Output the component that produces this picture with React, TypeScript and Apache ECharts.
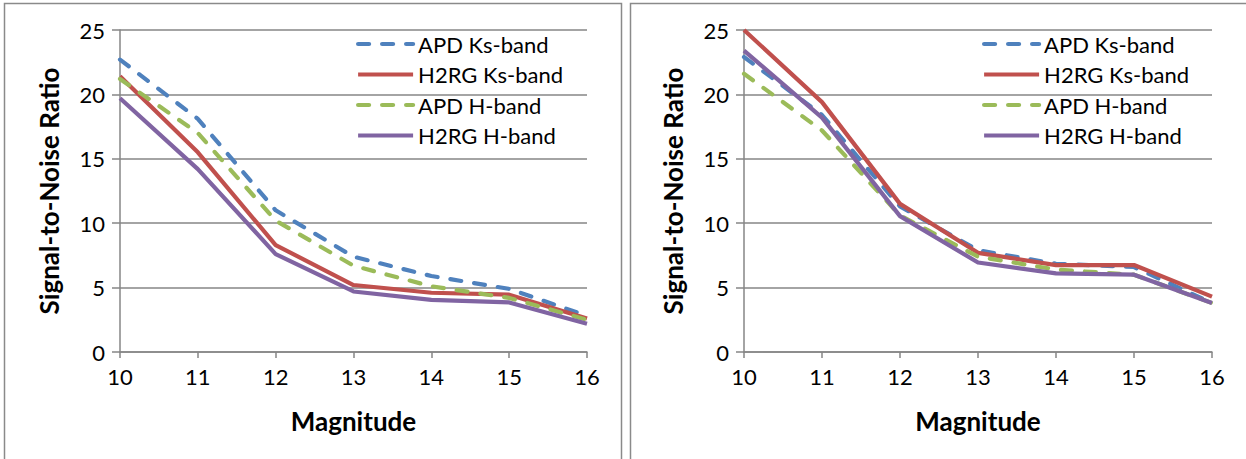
import React, { useEffect, useRef } from "react";
import * as echarts from "echarts";

const magnitudes = ["10", "11", "12", "13", "14", "15", "16"];
const seriesNames = ["APD Ks-band", "H2RG Ks-band", "APD H-band", "H2RG H-band"];

// Left panel
const leftApdKs = [22.7, 18.1, 11.0, 7.4, 5.9, 4.9, 2.8];
const leftH2rgKs = [21.4, 15.5, 8.3, 5.2, 4.6, 4.45, 2.6];
const leftApdH = [21.2, 17.0, 10.2, 6.7, 5.1, 4.2, 2.5];
const leftH2rgH = [19.7, 14.2, 7.6, 4.7, 4.05, 3.85, 2.2];

// Right panel
const rightApdKs = [22.9, 18.4, 11.3, 7.9, 6.85, 6.6, 3.8];
const rightH2rgKs = [25.0, 19.4, 11.5, 7.7, 6.75, 6.75, 4.3];
const rightApdH = [21.6, 17.2, 10.6, 7.4, 6.4, 6.0, 3.8];
const rightH2rgH = [23.4, 18.2, 10.55, 6.95, 6.1, 6.0, 3.8];

const colors = ["#4F81BD", "#C0504D", "#9BBB59", "#8064A2"];
const dashed = [true, false, true, false];

const FONT = "Lato, 'Open Sans', sans-serif";

export default function App() {
  const ref = useRef<HTMLDivElement>(null);

  useEffect(() => {
    if (!ref.current) return;
    const chart = echarts.init(ref.current, null, { renderer: "svg" });

    const grids = [
      { left: 120, top: 30, width: 467, height: 322 },
      { left: 744, top: 30, width: 468, height: 322 },
    ];

    const mkX = (gi: number) => ({
      type: "category",
      gridIndex: gi,
      data: magnitudes,
      boundaryGap: false,
      name: "Magnitude",
      nameLocation: "middle",
      nameGap: 56,
      nameTextStyle: { fontFamily: FONT, fontWeight: "bold", fontSize: 26, color: "#000" },
      axisLine: { lineStyle: { color: "#868686", width: 1.5 } },
      axisTick: { show: true, length: 6, alignWithLabel: true, lineStyle: { color: "#868686", width: 1.5 } },
      axisLabel: { fontFamily: FONT, fontSize: 22, color: "#000", margin: 13 },
      splitLine: { show: false },
    });

    const mkY = (gi: number) => ({
      type: "value",
      gridIndex: gi,
      min: 0,
      max: 25,
      interval: 5,
      name: "Signal-to-Noise Ratio",
      nameLocation: "middle",
      nameGap: 58,
      nameTextStyle: { fontFamily: FONT, fontWeight: "bold", fontSize: 26, color: "#000" },
      axisLine: { show: true, lineStyle: { color: "#868686", width: 1.5 } },
      axisTick: { show: true, length: 8, lineStyle: { color: "#868686", width: 1.5 } },
      axisLabel: { fontFamily: FONT, fontSize: 22, color: "#000", margin: 15 },
      splitLine: { show: true, lineStyle: { color: "#868686", width: 1.5 } },
    });

    const leftData = [leftApdKs, leftH2rgKs, leftApdH, leftH2rgH];
    const rightData = [rightApdKs, rightH2rgKs, rightApdH, rightH2rgH];

    const mkSeries = (gi: number, data: number[][]) =>
      data.map((d, i) => ({
        type: "line",
        name: seriesNames[i],
        xAxisIndex: gi,
        yAxisIndex: gi,
        data: d,
        symbol: "none",
        showSymbol: false,
        color: colors[i],
        lineStyle: {
          color: colors[i],
          width: 4.2,
          type: dashed[i] ? [11, 13] : "solid",
          cap: dashed[i] ? "round" : "butt",
          join: "round",
        },
      }));

    const mkLegend = (left: number) => ({
      show: true,
      orient: "vertical",
      left,
      top: 28,
      itemWidth: 55,
      itemHeight: 22,
      itemGap: 8.5,
      textGap: 4,
      data: seriesNames,
      itemStyle: { opacity: 0 },
      lineStyle: { width: 4.2 },
      textStyle: { fontFamily: FONT, fontSize: 22, color: "#000" },
      selectedMode: false,
    });

    chart.setOption({
      animation: false,
      backgroundColor: "#fff",
      grid: grids,
      xAxis: [mkX(0), mkX(1)],
      yAxis: [mkY(0), mkY(1)],
      legend: [mkLegend(351), mkLegend(977)],
      series: [...mkSeries(0, leftData), ...mkSeries(1, rightData)],
      graphic: [
        {
          type: "rect",
          shape: { x: 4.5, y: 3.5, width: 617, height: 480 },
          style: { fill: "none", stroke: "#8a8a8a", lineWidth: 1.5 },
          silent: true,
        },
        {
          type: "rect",
          shape: { x: 630.5, y: 3.5, width: 700, height: 480 },
          style: { fill: "none", stroke: "#8a8a8a", lineWidth: 1.5 },
          silent: true,
        },
      ],
    });

    return () => chart.dispose();
  }, []);

  return (
    <div
      ref={ref}
      style={{ position: "fixed", left: 0, top: 0, width: 1246, height: 459 }}
    />
  );
}
